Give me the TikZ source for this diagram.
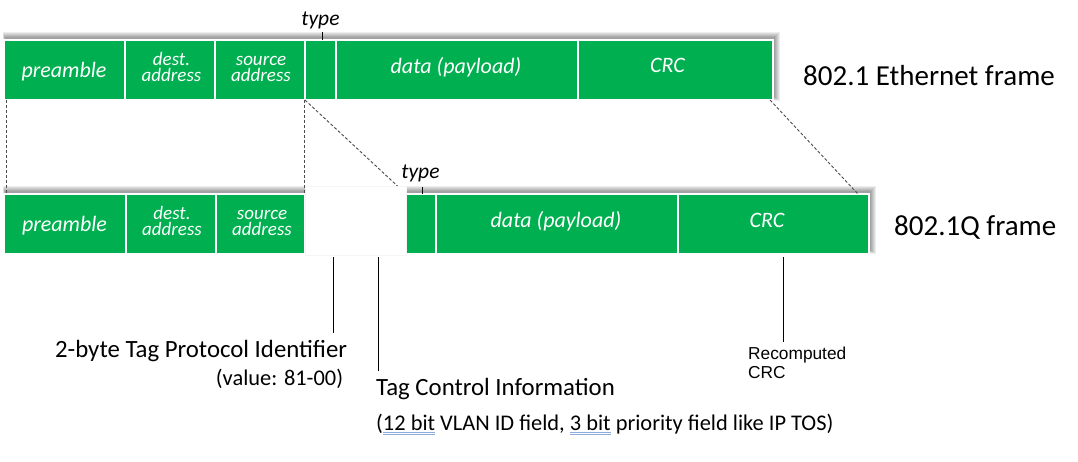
\documentclass[tikz,border=0pt]{standalone}
\usepackage{fontspec}
\setmainfont{Carlito}
\newfontfamily\arialfont{Liberation Sans}
\usetikzlibrary{calc}
\definecolor{frgreen}{HTML}{00B050}
\definecolor{ulblue}{HTML}{8FAADC}
\newcommand{\blueul}[1]{\setbox0\hbox{#1}\rlap{\color{ulblue}\rule[-2.6pt]{\wd0}{0.7pt}}\rlap{\color{ulblue}\rule[-4.3pt]{\wd0}{0.7pt}}#1}
\tikzset{
  cell/.style={fill=frgreen, draw=white, line width=1.6pt, inner sep=0, outer sep=0, anchor=north west, minimum height=60pt},
  bigtxt/.style={text=white, font=\fontsize{22pt}{26pt}\selectfont\itshape, inner sep=0, anchor=base},
  smalltxt/.style={text=white, font=\fontsize{19pt}{22pt}\selectfont\itshape, inner sep=0, anchor=base},
  typetxt/.style={font=\fontsize{21.5pt}{25pt}\selectfont\itshape, inner sep=0, anchor=base},
  frametitle/.style={font=\fontsize{29pt}{34pt}\selectfont, inner sep=0, anchor=base west},
  notetitle/.style={font=\fontsize{24.8pt}{28pt}\selectfont, inner sep=0},
  notesub/.style={font=\fontsize{22.4pt}{26pt}\selectfont, inner sep=0},
  arialnote/.style={font=\arialfont\fontsize{17.3pt}{20pt}\selectfont, inner sep=0, anchor=base west},
  guide/.style={draw=black!70, line width=0.9pt, dash pattern=on 3pt off 2pt},
  leader/.style={draw=black, line width=0.9pt},
  tickline/.style={draw=black, line width=0.9pt},
  gapbox/.style={fill=white, draw=black!4, line width=0.4pt, inner sep=0, outer sep=0, anchor=north west, minimum width=101pt, minimum height=69pt},
}
\begin{document}
\begin{tikzpicture}[x=1pt,y=-1pt]
\useasboundingbox[fill=white] (0,0) rectangle (1078,461);

% soft shadows (up and to the right)
\foreach \r in {0,...,5}{
  \fill[black,opacity=0.07] (4.5-0.3*\r,37-\r) rectangle (775+\r,97.5+0.6*\r);
  \fill[black,opacity=0.07] (4.5-0.3*\r,191-\r) rectangle (871+\r,250.5+0.6*\r);
}

% top frame (802.1 Ethernet)
\node[cell, minimum width=121pt] (pre1) at (4,40) {};
\node[cell, minimum width=90pt]  (dst1) at (125,40) {};
\node[cell, minimum width=90pt]  (src1) at (215,40) {};
\node[cell, minimum width=31pt]  (ty1)  at (305,40) {};
\node[cell, minimum width=242pt] (dat1) at (336,40) {};
\node[cell, minimum width=195pt] (crc1) at (578,40) {};

% bottom frame (802.1Q)
\node[cell, minimum width=122pt] (pre2) at (4,194) {};
\node[cell, minimum width=90pt]  (dst2) at (126,194) {};
\node[cell, minimum width=89pt]  (src2) at (216,194) {};
\node[cell, minimum width=30pt]  (ty2)  at (406,194) {};
\node[cell, minimum width=242pt] (dat2) at (436,194) {};
\node[cell, minimum width=191pt] (crc2) at (678,194) {};

% dashed guides
\draw[guide] ([xshift=2pt]pre1.south west) -- ([xshift=2pt]pre2.north west);
\draw[guide] ([xshift=-1pt]src1.south east) -- ([xshift=-1pt]src2.north east);
\draw[guide] (ty1.south west) -- (ty2.north west);
\draw[guide] ([xshift=-3pt]crc1.south east) -- ([xshift=-11pt]crc2.north east);

% inserted tag (blank gap)
\node[gapbox] (gap) at (305,186) {};

% cell texts, top
\node[bigtxt] (tpre1) at (64,77) {preamble};
\node[smalltxt] (tdst1a) at (171.5,65.5) {dest.};
\node[smalltxt] (tdst1b) at (171.5,81) {address};
\node[smalltxt] (tsrc1a) at (261,65.5) {source};
\node[smalltxt] (tsrc1b) at (261,81) {address};
\node[bigtxt] (tdat1) at (456,73) {data (payload)};
\node[bigtxt] (tcrc1) at (667.5,72.7) {CRC};
\node[typetxt] (ttype1) at (320.5,25) {type};
\coordinate (tk1) at (322.3,32.3);
\draw[tickline] (tk1) -- (tk1 |- ty1.north);

% cell texts, bottom
\node[bigtxt] (tpre2) at (64.5,231) {preamble};
\node[smalltxt] (tdst2a) at (172,219.5) {dest.};
\node[smalltxt] (tdst2b) at (172,235) {address};
\node[smalltxt] (tsrc2a) at (262,219.5) {source};
\node[smalltxt] (tsrc2b) at (262,235) {address};
\node[bigtxt] (tdat2) at (556,227) {data (payload)};
\node[bigtxt] (tcrc2) at (767,227) {CRC};
\node[typetxt] (ttype2) at (420.5,178.5) {type};
\coordinate (tk2) at (422.7,187);
\draw[tickline] (tk2) -- (tk2 |- ty2.north);

% frame titles
\node[frametitle] (eth) at (803,85) {802.1 Ethernet frame};
\node[frametitle] (dotq) at (894,235) {802.1Q frame};

% notes
\node[notetitle, anchor=base east] (tpi) at (347.3,357.3) {2-byte Tag Protocol Identifier};
\node[notesub, anchor=base east] (tpiv) at (343.3,385.5) {(value: 81-00)};
\node[notetitle, anchor=base west] (tci) at (376,395) {Tag Control Information};
\node[notesub, anchor=base west] (tciv) at (376,430.5) {(\blueul{12 bit} VLAN ID field, \blueul{3 bit} priority field like IP TOS)};
\node[arialnote] (rc1) at (748,359.3) {Recomputed};
\node[arialnote] (rc2) at (748,378.3) {CRC};

% leaders
\coordinate (l1a) at (333,257); \coordinate (l1b) at (333,333);
\coordinate (l2a) at (378,257); \coordinate (l2b) at (378,371);
\coordinate (l3a) at (783,257); \coordinate (l3b) at (783,342);
\draw[leader] (l1a) -- (l1b);
\draw[leader] (l2a) -- (l2b);
\draw[leader] (l3a) -- (l3b);
\end{tikzpicture}
\end{document}
